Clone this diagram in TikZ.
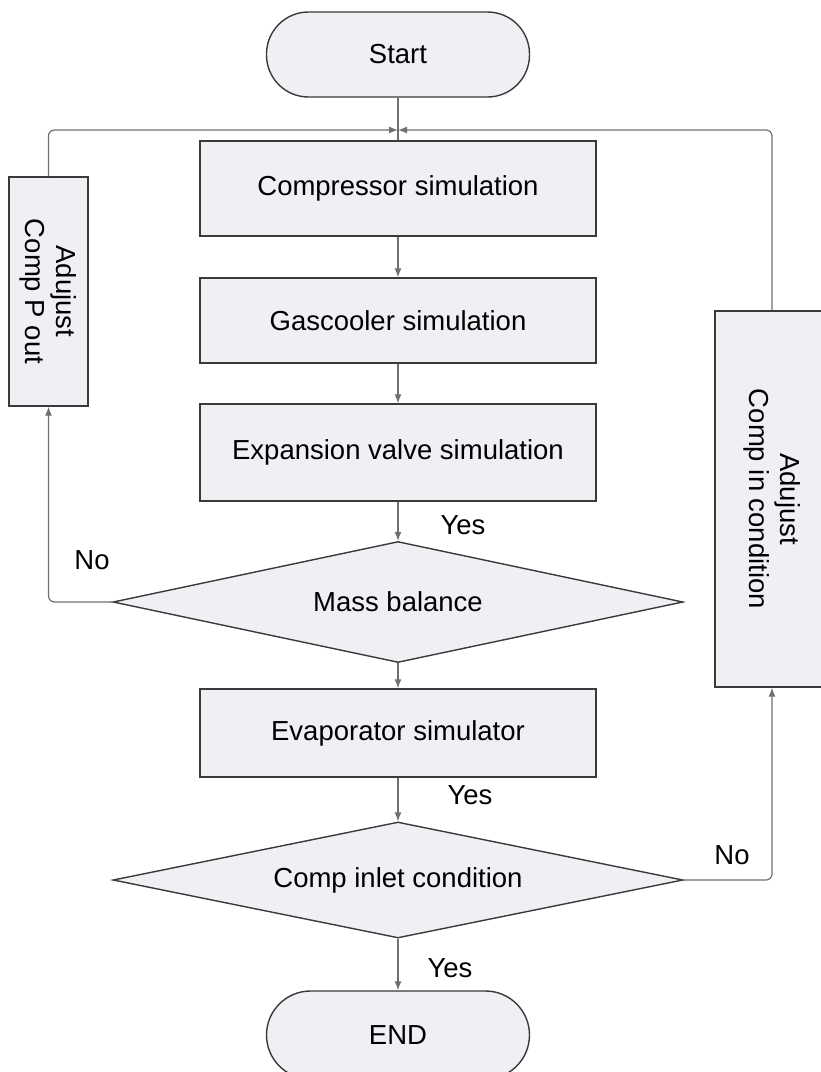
\documentclass[tikz,border=0pt]{standalone}
\usepackage{fontspec}
\setmainfont{Liberation Sans}
\usetikzlibrary{shapes.geometric,arrows.meta}
\definecolor{boxfill}{HTML}{EEF0F4}
\definecolor{boxline}{HTML}{3A3A3A}
\definecolor{flowline}{HTML}{707070}
\tikzset{
  block/.style={draw=boxline,fill=boxfill,line width=1.4pt,inner sep=0pt,minimum width=396pt},
  term/.style={block,rounded corners=42pt,minimum width=263pt,minimum height=85pt},
  decision/.style={block,diamond,aspect=4.7,minimum width=570pt,minimum height=121pt},
  adjust/.style={block,rotate=-90,align=center},
  flow/.style={draw=flowline,line width=1.2pt,-{Latex[length=9pt,width=7pt]},rounded corners=6pt},
  lbl/.style={inner sep=0pt}
}

\begin{document}
\begin{tikzpicture}[x=1pt,y=-1pt,font=\fontsize{27.5}{31}\selectfont]
  \useasboundingbox (0,0) rectangle (821,1072);
  % Terminals
  \node[term] (start) at (398,54.5) {Start};
  \node[term,minimum height=88pt,rounded corners=44pt] (end) at (398,1035) {END};
  % Process blocks
  \node[block,minimum height=95pt] (comp) at (398,188.5) {Compressor simulation};
  \node[block,minimum height=85pt] (gas) at (398,320.5) {Gascooler simulation};
  \node[block,minimum height=97pt] (expv) at (398,452.5) {Expansion valve simulation};
  \node[block,minimum height=88pt] (evap) at (398,733) {Evaporator simulator};
  % Decisions
  \node[decision] (mass) at (398,602) {Mass balance};
  \node[decision,minimum height=116pt] (inlet) at (398,880) {Comp inlet condition};
  % Adjust boxes
  \node[adjust,minimum width=229pt,minimum height=79pt] (padj) at (48.5,291.5) {Adujust\\Comp P out};
  \node[adjust,minimum width=376pt,minimum height=114pt] (cadj) at (772,499) {Adujust\\Comp in condition};
  % Main flow
  \coordinate (merge) at (398,130);
  \draw[draw=flowline,line width=1.2pt] (start) -- (comp);
  \foreach \a/\b in {comp/gas,gas/expv,expv/mass,mass/evap,evap/inlet,inlet/end}
    \draw[flow] (\a) -- (\b);
  % Loops back to the compressor
  \draw[flow] (mass.west) -| (padj.east);
  \draw[flow] (padj.west) |- (merge);
  \draw[flow] (inlet.east) -| (cadj.east);
  \draw[flow] (cadj.west) |- (merge);
  % Labels
  \node[lbl] (yes1) at (463,525) {Yes};
  \node[lbl] (no1) at (92,560) {No};
  \node[lbl] (yes2) at (470,795) {Yes};
  \node[lbl] (no2) at (732,855) {No};
  \node[lbl] (yes3) at (450,968) {Yes};
\end{tikzpicture}
\end{document}
